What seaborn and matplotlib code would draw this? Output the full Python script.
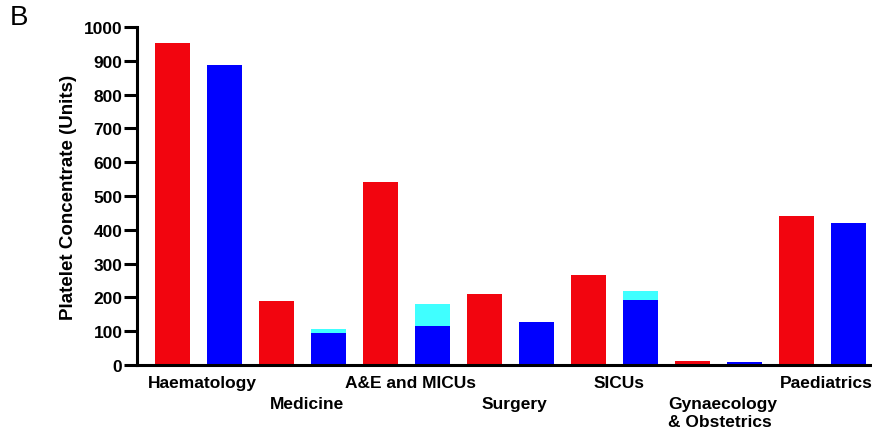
import matplotlib
matplotlib.use("Agg")
import matplotlib.pyplot as plt
import pandas as pd
import seaborn as sns

# Platelet concentrate units by specialty: red = first bar of each pair,
# blue + cyan = stacked second bar of each pair
categories = ["Haematology", "Medicine", "A&E and MICUs", "Surgery", "SICUs",
              "Gynaecology\n& Obstetrics", "Paediatrics"]
red_units = [952, 188, 541, 209, 267, 13, 440]
blue_units = [887, 96, 116, 126, 191, 9, 420]
cyan_units = [0, 12, 65, 2, 27, 0, 0]
y_ticks = [0, 100, 200, 300, 400, 500, 600, 700, 800, 900, 1000]

RED = "#F2050F"
BLUE = "#0000FF"
CYAN = "#40FFFF"

sns.set_theme(style="white")
plt.rcParams["font.family"] = ["Liberation Sans", "DejaVu Sans"]
plt.rcParams.update({"text.color": "black", "axes.labelcolor": "black",
                     "xtick.color": "black", "ytick.color": "black"})

slots = []
for i in range(len(categories)):
    slots += [f"r{i}", f"b{i}"]

red_df = pd.DataFrame({"slot": [f"r{i}" for i in range(len(categories))],
                       "units": red_units})
stack_df = pd.DataFrame({"slot": [f"b{i}" for i in range(len(categories))],
                         "total": [b + c for b, c in zip(blue_units, cyan_units)],
                         "blue": blue_units})

fig = plt.figure(figsize=(8.72, 4.31), dpi=100)
ax = fig.add_axes([0.1571, 0.1508, 0.8429, 0.7842])

bar_w = 0.673
sns.barplot(data=red_df, x="slot", y="units", order=slots, color=RED,
            width=bar_w, saturation=1, errorbar=None, ax=ax)
sns.barplot(data=stack_df, x="slot", y="total", order=slots, color=CYAN,
            width=bar_w, saturation=1, errorbar=None, ax=ax)
sns.barplot(data=stack_df, x="slot", y="blue", order=slots, color=BLUE,
            width=bar_w, saturation=1, errorbar=None, ax=ax)
for p in ax.patches:
    p.set_edgecolor("none")

ax.set_xlim(-0.683, 13.45)
ax.set_ylim(0, 1000)
ax.set_yticks(y_ticks)
ax.set_yticklabels([str(t) for t in y_ticks], fontsize=12.5, fontweight="bold")
ax.set_xticks([])
ax.set_xlabel("")
ax.set_ylabel("Platelet Concentrate (Units)", fontsize=13.5, fontweight="bold",
              labelpad=5)

for side in ("top", "right"):
    ax.spines[side].set_visible(False)
for side in ("left", "bottom"):
    ax.spines[side].set_linewidth(2.2)
    ax.spines[side].set_color("black")
ax.tick_params(axis="y", length=9.5, width=2.2, color="black", pad=1,
               left=True, labelcolor="black")

# Category names under each pair, alternating between two rows
for i, name in enumerate(categories):
    dy = -7 if i % 2 == 0 else -22
    ax.annotate(name, xy=(2 * i + 0.5, 0), xycoords="data",
                xytext=(3, dy), textcoords="offset points",
                ha="center", va="top", multialignment="left",
                fontsize=12.5, fontweight="bold",
                linespacing=1.25, annotation_clip=False)

fig.text(0.011, 0.988, "B", fontsize=20, ha="left", va="top")

fig.savefig("out.png", dpi=100)
